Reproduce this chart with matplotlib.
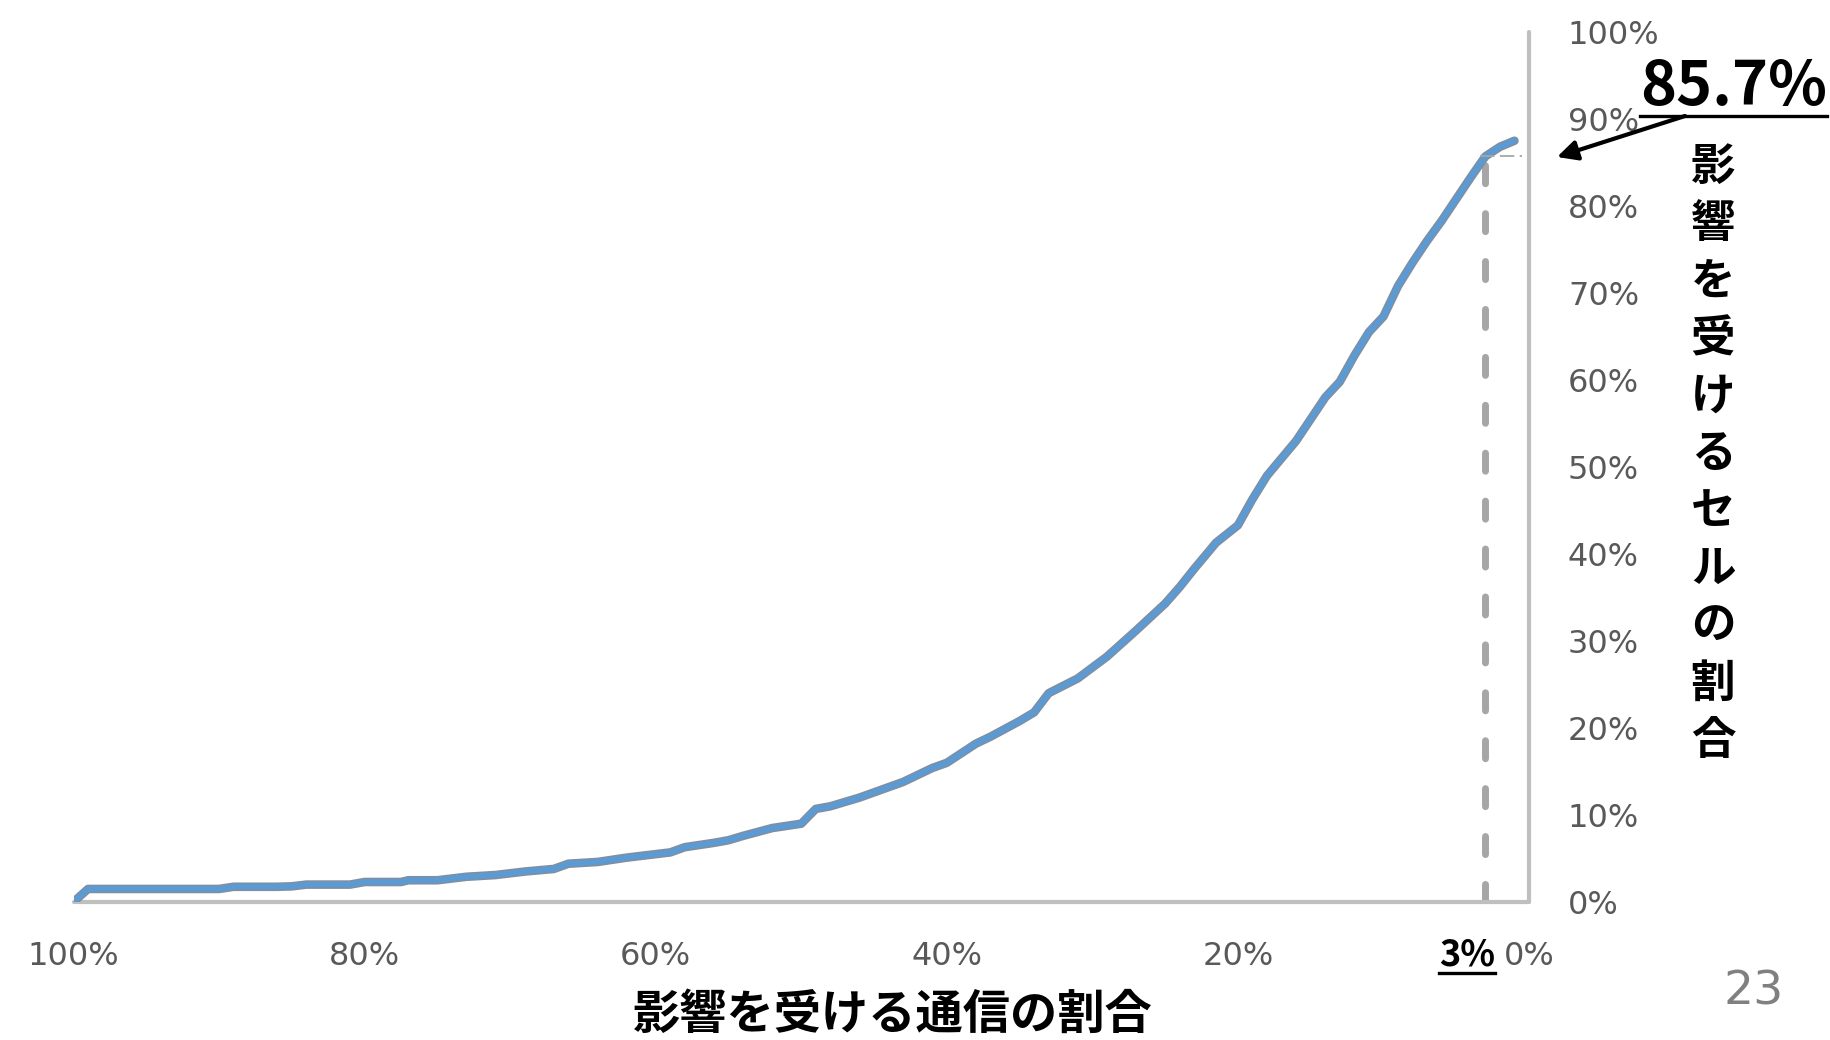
import matplotlib
matplotlib.use("Agg")
import matplotlib.pyplot as plt
import matplotlib.patheffects as pe
from matplotlib.lines import Line2D

# ---- data ----
comm_pct = [100, 99, 96, 93, 90, 89, 86, 85, 84, 81, 80, 77.5, 77, 75, 73, 71, 69, 67, 66,
            64, 62, 60, 59, 58, 56, 55, 54, 52, 50, 49, 48, 46, 45, 43, 41, 40, 38, 37, 35,
            34, 33, 31, 29, 27, 25, 24, 23, 21.5, 20, 19, 18, 17, 16, 15, 14, 13, 12, 11,
            10, 9, 8, 7, 6, 5, 4, 3, 2, 1]
cell_pct = [0, 1.5, 1.5, 1.5, 1.5, 1.75, 1.75, 1.8, 2.0, 2.0, 2.3, 2.3, 2.5, 2.5, 2.9, 3.1,
            3.5, 3.8, 4.4, 4.6, 5.1, 5.5, 5.7, 6.3, 6.8, 7.1, 7.6, 8.5, 9.0, 10.7, 11.0,
            12.0, 12.6, 13.8, 15.4, 16.0, 18.2, 19.0, 20.8, 21.8, 24.0, 25.7, 28.2, 31.2,
            34.3, 36.2, 38.3, 41.3, 43.3, 46.3, 49.0, 51.0, 53.0, 55.5, 58.0, 59.8, 62.8,
            65.5, 67.3, 70.8, 73.5, 76.0, 78.3, 80.8, 83.3, 85.7, 86.8, 87.5]
x_ticks = [100, 80, 60, 40, 20, 0]
x_ticklabels = ["100%", "80%", "60%", "40%", "20%", "0%"]
y_ticks = [0, 10, 20, 30, 40, 50, 60, 70, 80, 90, 100]
y_ticklabels = ["0%", "10%", "20%", "30%", "40%", "50%", "60%", "70%", "80%", "90%", "100%"]
highlight_x = 3
highlight_y = 85.7
highlight_x_label = "3%"
highlight_y_label = "85.7%"
x_title = "影響を受ける通信の割合"
y_title = "影響を受けるセルの割合"
page_number = "23"

JP = ["Noto Sans CJK JP", "DejaVu Sans"]
W, H = 1830, 1040

fig = plt.figure(figsize=(W / 100, H / 100), dpi=100)
fig.patch.set_facecolor("white")
ax = fig.add_axes([73.5 / W, 138 / H, (1529 - 73.5) / W, (902 - 32) / H])
ax.set_xlim(100, 0)
ax.set_ylim(0, 100)

for s in ["top", "left"]:
    ax.spines[s].set_visible(False)
for s in ["bottom", "right"]:
    ax.spines[s].set_color("#BFBFBF")
    ax.spines[s].set_linewidth(3)
    ax.spines[s].set_capstyle("round")

ax.yaxis.tick_right()
ax.set_xticks(x_ticks)
ax.set_xticklabels(x_ticklabels)
ax.set_yticks(y_ticks)
ax.set_yticklabels(y_ticklabels)
ax.tick_params(axis="both", length=0, colors="#595959", labelsize=23)
ax.tick_params(axis="x", pad=28)
ax.tick_params(axis="y", pad=28)
for lbl in ax.get_yticklabels():
    lbl.set_horizontalalignment("left")

# reference lines
ax.plot([highlight_x, highlight_x], [0, highlight_y], color="#A6A6A6", lw=5,
        dashes=(2.6, 4.3), dash_capstyle="round", zorder=2)
ax.plot([highlight_x + 0.4, 0.5], [highlight_y, highlight_y], color="#A6A6A6", lw=1.3,
        dashes=(8, 3), zorder=4)

# main curve
ax.plot(comm_pct, cell_pct, color="#5B9BD5", lw=3.8, solid_joinstyle="round",
        solid_capstyle="round", zorder=3,
        path_effects=[pe.Stroke(linewidth=6.2, foreground="#7F8FA3"), pe.Normal()])

# highlight x label
t3 = ax.text(highlight_x, 0, highlight_x_label, transform=ax.get_xaxis_transform(),
             ha="center", va="top", fontsize=26, fontweight="bold", color="black",
             family=JP)

# 85.7% label
t85 = fig.text(1827 / W, 1 - 105 / H, highlight_y_label, ha="right", va="baseline",
               fontsize=44, fontweight="bold", color="black", family=JP)

# arrow
fig.add_artist(matplotlib.patches.FancyArrowPatch(
    posA=(1685 / W, 1 - 116 / H), posB=(1557 / W, 1 - 157 / H),
    transform=fig.transFigure, arrowstyle="-|>,head_length=12,head_width=6",
    color="black", lw=3, shrinkA=0, shrinkB=0))

# vertical y-title, stacked characters
step = (741 - 167) / (len(y_title) - 1)
for i, ch in enumerate(y_title):
    fig.text(1713 / W, 1 - (167 + i * step) / H, ch, ha="center", va="center",
             fontsize=32, fontweight="bold", color="black", family=JP)

# x title
fig.text(893 / W, 1 - 1015 / H, x_title, ha="center", va="center", fontsize=34,
         fontweight="bold", color="black", family=JP)

# page number
fig.text(1754 / W, 1 - 992 / H, page_number, ha="center", va="center", fontsize=34,
         color="#808080", family=["Liberation Sans Narrow", "DejaVu Sans"])

# position the 3% label beside the 0% tick label (same row)
fig.canvas.draw()
r = fig.canvas.get_renderer()
x0lab = ax.get_xticklabels()[-1]
bb0 = x0lab.get_window_extent(r)
t3.set_transform(None)
t3.set_position((bb0.x0 - 9, (bb0.y0 + bb0.y1) / 2 + 1))
t3.set_ha("right")
t3.set_va("center")
fig.canvas.draw()

def underline(txt, dy, lw):
    bb = txt.get_window_extent(r)
    fig.add_artist(Line2D([bb.x0 / W, bb.x1 / W], [(bb.y0 + dy) / H, (bb.y0 + dy) / H],
                          transform=fig.transFigure, color="black", lw=lw))

underline(t3, 1, 2.4)
underline(t85, 2, 2.4)

fig.savefig("out.png", dpi=100, facecolor="white")
